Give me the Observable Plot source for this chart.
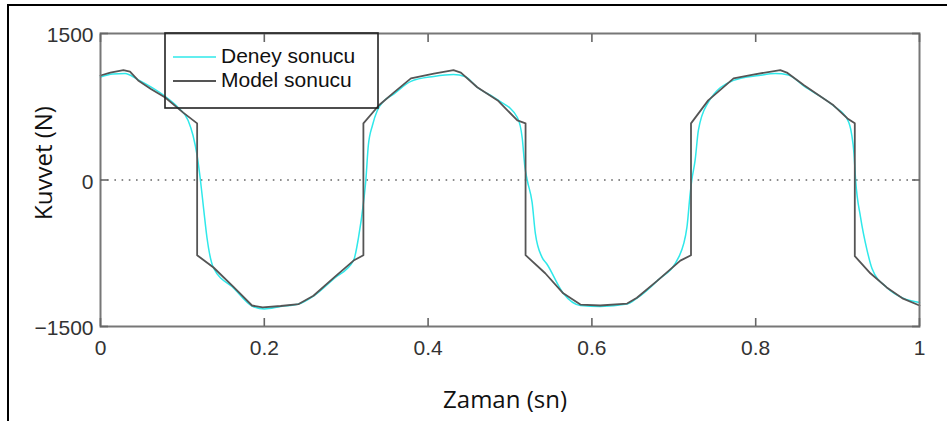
<!DOCTYPE html>
<html>
<head>
<meta charset="utf-8">
<script src="https://cdn.jsdelivr.net/npm/d3@7"></script>
<script src="https://cdn.jsdelivr.net/npm/@observablehq/plot@0.6"></script>
<style>
  body { margin: 0; background: #fff; }
  #wrap { position: relative; width: 947px; height: 421px; overflow: hidden; }
  #border { position: absolute; left: 7px; top: 4px; width: 950px; height: 430px;
            border-top: 2.5px solid #000; border-left: 2.5px solid #000; pointer-events: none; }
  #legend { position: absolute; left: 0; top: 0; pointer-events: none; }
</style>
</head>
<body>
<div id="wrap">
  <div id="chart"></div>
  <div id="border"></div>
  <svg id="legend" width="947" height="421"></svg>
</div>
<script>
// ---- data ----
const seriesNames = ["Deney sonucu", "Model sonucu"];
const xTicks = [0, 0.2, 0.4, 0.6, 0.8, 1];
const yTicks = [-1500, 0, 1500];
const xLabel = "Zaman (sn)";
const yLabel = "Kuvvet (N)";

const tModel = [0, 0.012, 0.028, 0.036, 0.046, 0.062, 0.079, 0.101, 0.118, 0.118,
  0.138, 0.163, 0.185, 0.198, 0.22, 0.242, 0.26, 0.285, 0.309, 0.321, 0.321,
  0.34, 0.358, 0.379, 0.407, 0.431, 0.44, 0.46, 0.485, 0.509, 0.519, 0.519,
  0.543, 0.565, 0.586, 0.61, 0.643, 0.655, 0.68, 0.708, 0.721, 0.721,
  0.742, 0.773, 0.797, 0.83, 0.838, 0.859, 0.895, 0.912, 0.921, 0.921,
  0.94, 0.96, 0.98, 1.0];
const vModel = [1070, 1100, 1125, 1110, 1020, 930, 845, 690, 580, -770,
  -896, -1100, -1285, -1305, -1290, -1270, -1185, -1000, -825, -770, 580,
  765, 895, 1040, 1090, 1125, 1100, 950, 815, 610, 580, -770,
  -955, -1160, -1275, -1285, -1265, -1205, -1030, -825, -770, 580,
  815, 1040, 1080, 1125, 1100, 970, 765, 630, 580, -780,
  -955, -1100, -1215, -1285];

const tDeney = [0, 0.015, 0.03, 0.045, 0.062, 0.079, 0.095, 0.107, 0.113, 0.118, 0.122,
  0.126, 0.13, 0.138, 0.163, 0.185, 0.2, 0.22, 0.242, 0.26, 0.285, 0.309,
  0.315, 0.321, 0.324, 0.327, 0.332, 0.338, 0.345, 0.358, 0.379, 0.407, 0.431,
  0.445, 0.46, 0.485, 0.509, 0.515, 0.518, 0.521, 0.527, 0.531, 0.539, 0.545,
  0.565, 0.586, 0.61, 0.643, 0.655, 0.68, 0.706, 0.716, 0.72, 0.722, 0.726,
  0.73, 0.741, 0.773, 0.804, 0.824, 0.84, 0.859, 0.895, 0.912, 0.917, 0.92,
  0.922, 0.928, 0.936, 0.942, 0.96, 0.98, 1.0];
const vDeney = [1055, 1085, 1090, 1030, 950, 855, 740, 610, 456, 250, 0,
  -300, -590, -900, -1110, -1290, -1320, -1295, -1270, -1190, -1010, -824,
  -590, -240, 0, 353, 558, 712, 800, 880, 1010, 1060, 1080,
  1060, 950, 820, 640, 425, 148, 0, -230, -550, -790, -860,
  -1160, -1285, -1295, -1270, -1210, -1030, -790, -486, -138, 0, 200,
  507, 780, 1020, 1070, 1090, 1075, 960, 760, 620, 476, 271,
  0, -380, -720, -906, -1100, -1210, -1254];

const model = tModel.map((t, i) => ({t, v: vModel[i]}));
const deney = tDeney.map((t, i) => ({t, v: vDeney[i]}));

const cyan = "#2fe8ea";
const gray = "#555555";
const fmtY = d => d < 0 ? "\u2212" + Math.abs(d) : String(d);
const fmtX = d => String(d);

const chart = Plot.plot({
  width: 947,
  height: 421,
  marginLeft: 100,
  marginRight: 28,
  marginTop: 33,
  marginBottom: 95,
  style: { fontFamily: "Liberation Sans, Arial, sans-serif", background: "white", color: "#333" },
  x: { domain: [0, 1] },
  y: { domain: [-1500, 1500] },
  marks: [
    Plot.ruleY([0], { stroke: "#666", strokeWidth: 1.6, strokeDasharray: "1.6,5.6" }),
    Plot.line(deney, { x: "t", y: "v", stroke: cyan, strokeWidth: 1.5, curve: "monotone-x" }),
    Plot.line(model, { x: "t", y: "v", stroke: gray, strokeWidth: 1.8 }),
    Plot.frame({ stroke: "#777", strokeWidth: 2 }),
    // tick labels
    Plot.axisX(xTicks, { anchor: "bottom", tickSize: 0, tickPadding: 14, tickFormat: fmtX, fontSize: 21, label: null, fill: "#333" }),
    Plot.axisY(yTicks, { anchor: "left", tickSize: 0, tickPadding: 7, tickFormat: fmtY, fontSize: 21, label: null, fill: "#333", dy: 2 }),
    // inward ticks
    Plot.axisX(xTicks, { anchor: "bottom", tickSize: -8, tickFormat: () => "", label: null, stroke: "#666", strokeWidth: 1.6 }),
    Plot.axisX(xTicks, { anchor: "top", tickSize: -8, tickFormat: () => "", label: null, stroke: "#666", strokeWidth: 1.6 }),
    Plot.axisY(yTicks, { anchor: "left", tickSize: -8, tickFormat: () => "", label: null, stroke: "#666", strokeWidth: 1.6 }),
    Plot.axisY(yTicks, { anchor: "right", tickSize: -8, tickFormat: () => "", label: null, stroke: "#666", strokeWidth: 1.6 }),
    // axis titles
    Plot.text([xLabel], { frameAnchor: "bottom", dx: -5, dy: 74, lineAnchor: "middle", textAnchor: "middle", fontSize: 24, fontFamily: "Open Sans", fill: "#111" }),
    Plot.text([yLabel], { frameAnchor: "left", dx: -56, dy: -17, rotate: -90, lineAnchor: "middle", textAnchor: "middle", fontSize: 24, fontFamily: "Open Sans", fill: "#111" })
  ]
});
document.getElementById("chart").appendChild(chart);

// legend overlay
const lg = d3.select("#legend");
lg.append("rect").attr("x", 165).attr("y", 33).attr("width", 213).attr("height", 75)
  .attr("fill", "none").attr("stroke", "#222").attr("stroke-width", 1.6);
const legendColors = [cyan, gray];
const legendWidths = [1.5, 1.8];
seriesNames.forEach((name, i) => {
  const y = 57 + i * 24;
  lg.append("line").attr("x1", 173).attr("x2", 216).attr("y1", y).attr("y2", y)
    .attr("stroke", legendColors[i]).attr("stroke-width", legendWidths[i]);
  lg.append("text").attr("x", 221).attr("y", y + 6).text(name)
    .attr("font-family", "Liberation Sans").attr("font-size", 21).attr("fill", "#111");
});
</script>
</body>
</html>
